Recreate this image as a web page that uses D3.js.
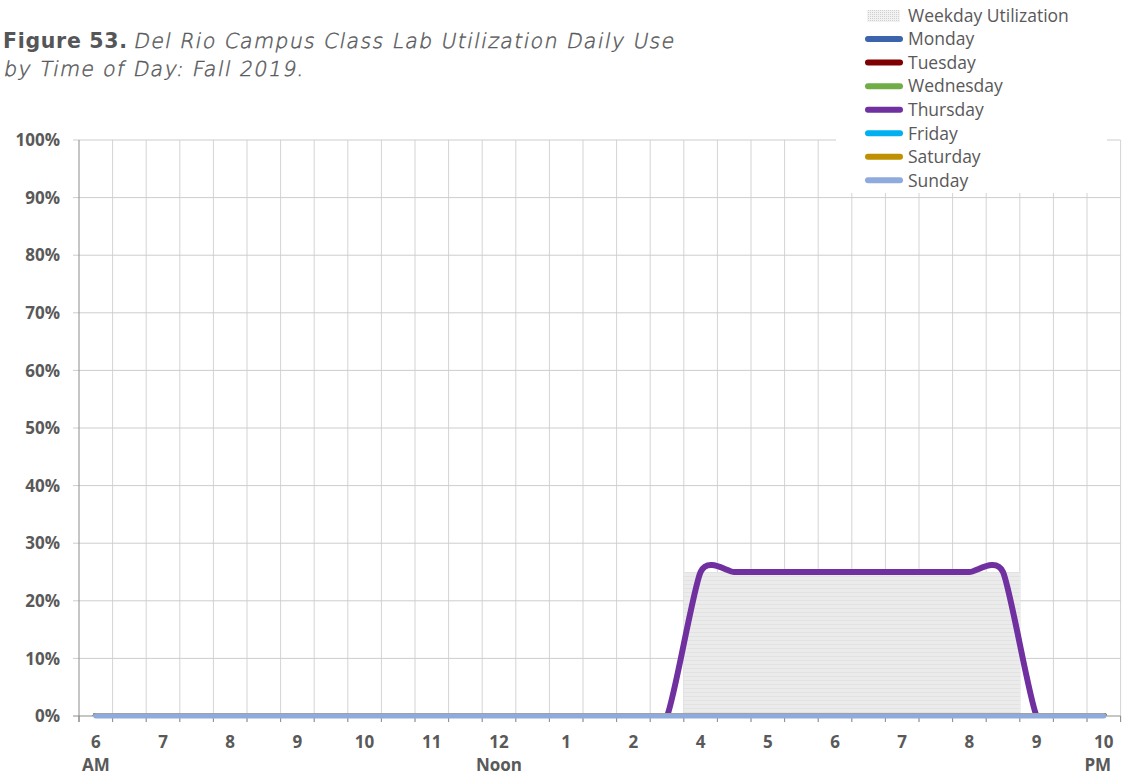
<!DOCTYPE html>
<html>
<head>
<meta charset="utf-8">
<script src="https://cdn.jsdelivr.net/npm/d3@7"></script>
<style>
  html, body { margin: 0; padding: 0; background: #fff; }
  svg { display: block; }
  .axis-label { font-family: "Open Sans", sans-serif; font-weight: 700; font-size: 17px; fill: #595959; }
  .legend-label { font-family: "Open Sans", sans-serif; font-size: 17.5px; fill: #595959; }
  .title-bold { font-family: "DejaVu Sans", sans-serif; font-size: 20.5px; font-weight: 700; fill: #555658; letter-spacing: 0.7px; }
  .title-light { font-family: "DejaVu Sans", sans-serif; font-size: 20.5px; font-weight: 200; fill: #58595b; stroke: #58595b; stroke-width: 0.45px; letter-spacing: 1.35px; }
</style>
</head>
<body>
<svg id="chart" width="1125" height="776"></svg>
<script>
// Half-hour time slots, 6:00 AM through 9:00 PM
const slots = [
  "6:00","6:30","7:00","7:30","8:00","8:30","9:00","9:30","10:00","10:30",
  "11:00","11:30","12:00","12:30","1:00","1:30","2:00","2:30","3:00","3:30",
  "4:00","4:30","5:00","5:30","6:00p","6:30p","7:00p","7:30p","8:00p","8:30p","9:00p"
];

// Hour labels printed under every second slot
const hourLabels = ["6","7","8","9","10","11","12","1","2","4","5","6","7","8","9","10"];
const hourSubLabels = ["AM","","","","","","Noon","","","","","","","","","PM"];

const yTicks = [0, 0.1, 0.2, 0.3, 0.4, 0.5, 0.6, 0.7, 0.8, 0.9, 1.0];

// Share of lab capacity in use, per slot
const weekdayUtilization = [0,0,0,0,0,0,0,0,0,0, 0,0,0,0,0,0,0,0,0.25,0.25, 0.25,0.25,0.25,0.25,0.25,0.25,0.25,0.25,0,0, 0];
const monday    = [0,0,0,0,0,0,0,0,0,0, 0,0,0,0,0,0,0,0,0,0, 0,0,0,0,0,0,0,0,0,0, 0];
const tuesday   = [0,0,0,0,0,0,0,0,0,0, 0,0,0,0,0,0,0,0,0,0, 0,0,0,0,0,0,0,0,0,0, 0];
const wednesday = [0,0,0,0,0,0,0,0,0,0, 0,0,0,0,0,0,0,0,0,0, 0,0,0,0,0,0,0,0,0,0, 0];
const thursday  = [0,0,0,0,0,0,0,0,0,0, 0,0,0,0,0,0,0,0,0.25,0.25, 0.25,0.25,0.25,0.25,0.25,0.25,0.25,0.25,0,0, 0];
const friday    = [0,0,0,0,0,0,0,0,0,0, 0,0,0,0,0,0,0,0,0,0, 0,0,0,0,0,0,0,0,0,0, 0];
const saturday  = [0,0,0,0,0,0,0,0,0,0, 0,0,0,0,0,0,0,0,0,0, 0,0,0,0,0,0,0,0,0,0, 0];
const sunday    = [0,0,0,0,0,0,0,0,0,0, 0,0,0,0,0,0,0,0,0,0, 0,0,0,0,0,0,0,0,0,0, 0];

const dayNames  = ["Monday","Tuesday","Wednesday","Thursday","Friday","Saturday","Sunday"];
const dayColors = ["#3b64ad","#7f0000","#70ad47","#7030a0","#00b0f0","#bf9000","#8faadc"];
const daySeries = [monday, tuesday, wednesday, thursday, friday, saturday, sunday];

const svg = d3.select("#chart");
const plot = { left: 79, right: 1120.6, top: 140, bottom: 716 };

const x = d3.scaleBand().domain(d3.range(slots.length)).range([plot.left, plot.right]).padding(0);
const y = d3.scaleLinear().domain([0, 1]).range([plot.bottom, plot.top]);
const cx = i => x(i) + x.bandwidth() / 2;

// Patterns for the weekday fill
const defs = svg.append("defs");
const stripe = defs.append("pattern").attr("id", "weekdayFill")
  .attr("patternUnits", "userSpaceOnUse").attr("width", 4).attr("height", 4);
stripe.append("rect").attr("width", 4).attr("height", 4).attr("fill", "#ebebeb");
stripe.append("rect").attr("y", 0).attr("width", 4).attr("height", 1).attr("fill", "#e2e2e2");

const dots = defs.append("pattern").attr("id", "weekdaySwatch")
  .attr("patternUnits", "userSpaceOnUse").attr("width", 2).attr("height", 2);
dots.append("rect").attr("width", 2).attr("height", 2).attr("fill", "#f2f2f2");
dots.append("rect").attr("width", 1).attr("height", 1).attr("fill", "#cfcfcf");

defs.append("clipPath").attr("id", "plotClip")
  .append("rect").attr("x", plot.left).attr("y", 0)
  .attr("width", plot.right - plot.left).attr("height", plot.bottom);

// Gridlines
const grid = svg.append("g");
grid.selectAll("line.v").data(d3.range(1, slots.length + 1)).join("line")
  .attr("x1", i => i < slots.length ? x(i) : plot.right)
  .attr("x2", i => i < slots.length ? x(i) : plot.right)
  .attr("y1", plot.top).attr("y2", plot.bottom + 6)
  .attr("stroke", "#d4d4d4").attr("stroke-width", 1);
grid.selectAll("line.h").data(yTicks.slice(1)).join("line")
  .attr("x1", plot.left - 6).attr("x2", plot.right)
  .attr("y1", d => y(d)).attr("y2", d => y(d))
  .attr("stroke", "#cdcdcd").attr("stroke-width", 1);

// Axis lines and ticks
const axes = svg.append("g").attr("stroke", "#8c8c8c").attr("stroke-width", 1);
axes.append("line").attr("x1", plot.left).attr("x2", plot.left)
  .attr("y1", plot.top).attr("y2", plot.bottom + 6);
axes.append("line").attr("x1", plot.left - 6).attr("x2", plot.right)
  .attr("y1", plot.bottom).attr("y2", plot.bottom);
axes.selectAll("line.t").data(d3.range(0, slots.length + 1)).join("line")
  .attr("x1", i => i < slots.length ? x(i) : plot.right)
  .attr("x2", i => i < slots.length ? x(i) : plot.right)
  .attr("y1", plot.bottom).attr("y2", plot.bottom + 6);

// Weekday utilization columns (no gap)
svg.append("g").selectAll("rect").data(weekdayUtilization).join("rect")
  .attr("x", (d, i) => x(i)).attr("width", x.bandwidth() + 0.5)
  .attr("y", d => y(d)).attr("height", d => y(0) - y(d))
  .attr("fill", "url(#weekdayFill)");

// Smoothed day lines
const line = d3.line().x((d, i) => cx(i)).y(d => y(d)).curve(d3.curveCardinal.tension(0.35));
svg.append("g").attr("clip-path", "url(#plotClip)")
  .selectAll("path").data(daySeries).join("path")
  .attr("d", d => line(d))
  .attr("fill", "none")
  .attr("stroke", (d, i) => dayColors[i])
  .attr("stroke-width", (d, i) => dayNames[i] === "Sunday" ? 5 : 6)
  .attr("stroke-linecap", "round").attr("stroke-linejoin", "round");
// Sunday sits on the zero line; draw it unclipped so its full width shows
svg.append("path").attr("d", line(sunday)).attr("fill", "none")
  .attr("stroke", dayColors[6]).attr("stroke-width", 5).attr("stroke-linecap", "round");

// Y axis labels
svg.append("g").selectAll("text").data(yTicks).join("text")
  .attr("class", "axis-label")
  .attr("x", 60).attr("y", d => y(d)).attr("dy", "0.36em")
  .attr("text-anchor", "end")
  .text(d => d3.format(".0%")(d));

// X axis labels
const xl = svg.append("g");
xl.selectAll("text.h").data(hourLabels).join("text")
  .attr("class", "axis-label")
  .attr("x", (d, k) => cx(k * 2)).attr("y", 748)
  .attr("text-anchor", "middle").text(d => d);
xl.selectAll("text.s").data(hourSubLabels).join("text")
  .attr("class", "axis-label")
  .attr("x", (d, k) => k === hourSubLabels.length - 1 ? cx(k * 2) - 6 : cx(k * 2)).attr("y", 771)
  .attr("text-anchor", "middle").text(d => d);

// Legend
const lg = svg.append("g");
lg.append("rect").attr("x", 836).attr("y", 0).attr("width", 271).attr("height", 193).attr("fill", "#fff");
const rowY = i => 15.5 + i * 23.55;
lg.append("rect").attr("x", 867).attr("y", rowY(0) - 5.5).attr("width", 33).attr("height", 12)
  .attr("fill", "url(#weekdaySwatch)");
lg.append("text").attr("class", "legend-label").attr("x", 908).attr("y", rowY(0)).attr("dy", "0.36em")
  .text("Weekday Utilization");
dayNames.forEach((name, i) => {
  const yy = rowY(i + 1);
  lg.append("line").attr("x1", 868).attr("x2", 900).attr("y1", yy).attr("y2", yy)
    .attr("stroke", dayColors[i]).attr("stroke-width", 6).attr("stroke-linecap", "round");
  lg.append("text").attr("class", "legend-label").attr("x", 908).attr("y", yy).attr("dy", "0.36em")
    .text(name);
});

// Title: bold figure number, then a slanted light caption
const title = svg.append("g");
title.append("text").attr("class", "title-bold").attr("x", 3).attr("y", 47.5).text("Figure 53.");
title.append("text").attr("class", "title-light")
  .attr("transform", "translate(133,47.5) skewX(-11)")
  .text("Del Rio Campus Class Lab Utilization Daily Use");
title.append("text").attr("class", "title-light")
  .attr("transform", "translate(3,76) skewX(-11)")
  .text("by Time of Day: Fall 2019.");
</script>
</body>
</html>
